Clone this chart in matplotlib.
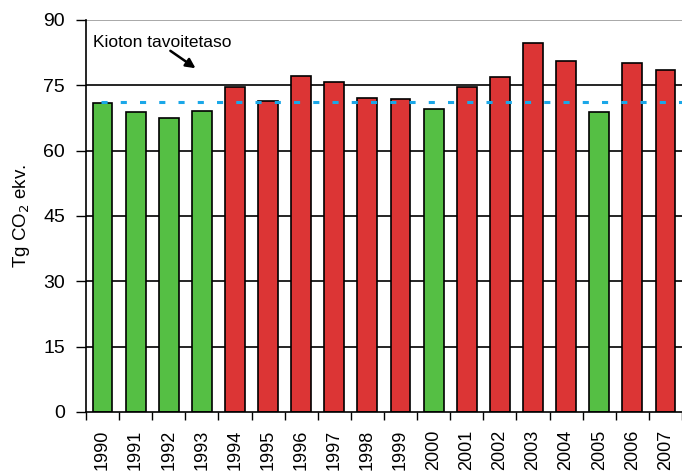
import numpy as np
import matplotlib.pyplot as plt

years = [str(y) for y in range(1990, 2008)]
values = [71.0, 68.8, 67.4, 69.1, 74.7, 71.3, 77.2, 75.7, 72.0, 71.8,
          69.5, 74.7, 76.8, 84.6, 80.5, 68.8, 80.2, 78.6]
below_target = [True, True, True, True, False, False, False, False, False, False,
                True, False, False, False, False, True, False, False]
kyoto_target = 71.1
yticks = [0, 15, 30, 45, 60, 75, 90]

GREEN = "#55bf44"
RED = "#dc3535"

plt.rcParams["font.family"] = ["Liberation Sans", "DejaVu Sans"]

fig = plt.figure(figsize=(6.82, 4.73), dpi=100)
ax = fig.add_axes([0.126, 0.129, 0.874, 0.829])

x = np.arange(len(years))
colors = [GREEN if b else RED for b in below_target]

for yv in yticks[1:-1]:
    ax.axhline(yv, color="black", linewidth=1.2, zorder=1)
ax.axhline(90, color="#999999", linewidth=1.2, zorder=1)

ax.bar(x, values, width=0.6, color=colors, edgecolor="black", linewidth=1.2, zorder=2)
ax.hlines(kyoto_target, -0.05, 17.5, color="#1aa7e8", linewidth=2.2,
          linestyle=(0, (2, 4.3)), zorder=3)

ax.text(-0.3, 84.8, "Kioton tavoitetaso", fontsize=12.5, ha="left", va="center", zorder=4)
ax.annotate("", xy=(2.81, 78.9), xytext=(2.05, 82.9),
            arrowprops=dict(arrowstyle="-|>", color="black", lw=1.8,
                            shrinkA=0, shrinkB=0, mutation_scale=14),
            zorder=4)

ax.set_xlim(-0.5, 17.29)
ax.set_ylim(0, 90)
ax.set_yticks(yticks)
ax.tick_params(axis="y", labelsize=14, length=7, width=1, direction="out", pad=8)
ax.set_xticks(np.append(x - 0.5, 17.5))
ax.set_xticks(x, minor=True)
ax.set_xticklabels([])
ax.set_xticklabels(years, minor=True, rotation=90, fontsize=13)
ax.tick_params(axis="x", which="major", length=6, width=1, direction="out")
ax.tick_params(axis="x", which="minor", length=0, pad=13)
ax.set_ylabel("Tg CO$_2$ ekv.", fontsize=13.5, labelpad=8)

for side in ["top", "right"]:
    ax.spines[side].set_visible(False)
ax.spines["left"].set_linewidth(1.2)
ax.spines["bottom"].set_linewidth(1.2)

fig.savefig("out.png", dpi=100)
